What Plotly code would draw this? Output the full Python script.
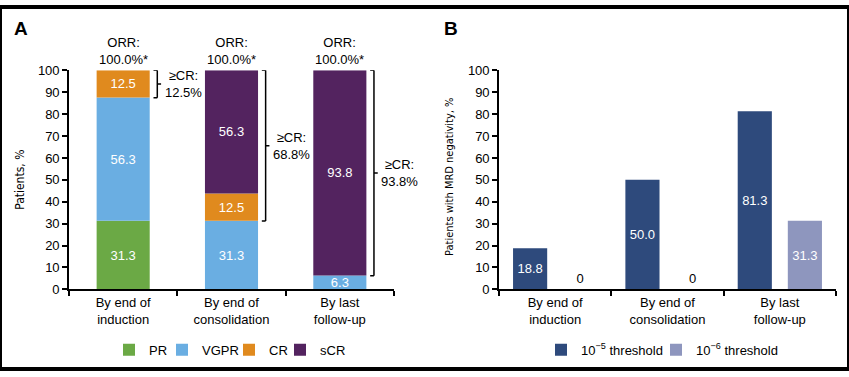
import numpy as np
import plotly.graph_objects as go

W, H = 849, 377

# ---------------- data ----------------
categories = ["By end of<br>induction", "By end of<br>consolidation", "By last<br>follow-up"]

# Panel A: response categories (stacked, %)
resp_names = ["PR", "VGPR", "CR", "sCR"]
pr_vals = [31.3, 0.0, 0.0]
vgpr_vals = [56.3, 31.3, 6.3]
cr_vals = [12.5, 12.5, 0.0]
scr_vals = [0.0, 56.3, 93.8]
orr_labels = ["100.0%*", "100.0%*", "100.0%*"]

# Panel B: MRD negativity (%)
mrd_names = ["10<sup>\u22125</sup> threshold", "10<sup>\u22126</sup> threshold"]
mrd_1e5 = [18.8, 50.0, 81.3]
mrd_1e6 = [0.0, 0.0, 31.3]

y_ticks = [0, 10, 20, 30, 40, 50, 60, 70, 80, 90, 100]

# ---------------- styling ----------------
resp_colors = ["#6BA945", "#6AAEE2", "#E08A1E", "#53235F"]
mrd_colors = ["#2E4A7C", "#8E96BE"]
resp_legend_w = [8, 22, 6, 25]
mrd_legend_w = [70, 80]
FONT = "Liberation Sans, Arial, sans-serif"
NARROW = "Liberation Sans Narrow, Arial Narrow, DejaVu Sans Condensed, sans-serif"


def px_x(p):
    return p / W


def px_y(p):
    return 1 - p / H


xa_dom = [px_x(69), px_x(394)]
xb_dom = [px_x(499), px_x(836)]
y_dom = [px_y(294), px_y(66)]

fig = go.Figure()

# ---- Panel A stacked bars ----
series_a = [pr_vals, vgpr_vals, cr_vals, scr_vals]
bases = np.cumsum([np.zeros(3)] + [np.array(s) for s in series_a[:-1]], axis=0)
bar_w_a = 0.49
for name, vals, base, col, lw in zip(resp_names, series_a, bases, resp_colors, resp_legend_w):
    keep = [i for i, v in enumerate(vals) if v > 0]
    fig.add_trace(go.Bar(
        x=[categories[i] for i in keep], y=[vals[i] for i in keep],
        base=[base[i] for i in keep], name=name,
        marker=dict(color=col, line=dict(width=0)),
        width=bar_w_a,
        text=[f"{vals[i]:.1f}" for i in keep],
        textposition="inside", insidetextanchor="middle",
        constraintext="none",
        insidetextfont=dict(color="white", size=13, family=FONT),
        xaxis="x", yaxis="y", legend="legend", legendwidth=lw,
        hoverinfo="skip",
    ))

# ---- Panel B grouped bars ----
bar_w_b = 0.304
offsets_b = [-0.375, 0.071]
for name, vals, col, off, lw in zip(mrd_names, [mrd_1e5, mrd_1e6], mrd_colors, offsets_b, mrd_legend_w):
    fig.add_trace(go.Bar(
        x=categories, y=vals, name=name,
        marker=dict(color=col, line=dict(width=0)),
        width=bar_w_b, offset=off,
        text=[f"{v:.1f}" if v > 0 else "0" for v in vals],
        textposition=["inside" if v > 0 else "outside" for v in vals],
        insidetextanchor="middle", constraintext="none", cliponaxis=False,
        insidetextfont=dict(color="white", size=13, family=FONT),
        outsidetextfont=dict(color="black", size=13, family=FONT),
        xaxis="x2", yaxis="y2", legend="legend2", legendwidth=lw,
        hoverinfo="skip",
    ))

# ---- annotations / brackets for panel A ----
annotations = []
shapes = []
cr_plus = np.array(cr_vals) + np.array(scr_vals)
totals = np.sum(series_a, axis=0)
br_dx = 0.315   # bracket offset from category centre (category units)
arm = 0.035
for i, (lab, crp, tot) in enumerate(zip(orr_labels, cr_plus, totals)):
    annotations.append(dict(
        x=i, y=min(tot, 100), xref="x", yref="y", text="ORR:<br>" + lab,
        showarrow=False, yanchor="bottom", yshift=1,
        font=dict(size=13, family=FONT, color="black"), align="center"))
    top = min(tot, 100)
    bot = top - crp
    xb = i + br_dx
    lw = 1.5
    shapes += [
        dict(type="line", xref="x", yref="y", x0=xb, x1=xb, y0=bot, y1=top, line=dict(color="black", width=lw)),
        dict(type="line", xref="x", yref="y", x0=xb - arm, x1=xb, y0=top, y1=top, line=dict(color="black", width=lw)),
        dict(type="line", xref="x", yref="y", x0=xb - arm, x1=xb, y0=bot, y1=bot, line=dict(color="black", width=lw)),
        dict(type="line", xref="x", yref="y", x0=xb, x1=xb + arm, y0=(top + bot) / 2, y1=(top + bot) / 2, line=dict(color="black", width=lw)),
    ]
    annotations.append(dict(
        x=xb + 0.05, y=(top + bot) / 2, xref="x", yref="y",
        text=f"\u2265CR:<br>{crp:.1f}%", showarrow=False,
        xanchor="left", yanchor="middle", align="center",
        font=dict(size=13, family=FONT, color="black")))

# panel letters and axis titles
annotations += [
    dict(x=px_x(12), y=px_y(22), xref="paper", yref="paper", text="<b>A</b>", showarrow=False,
         xanchor="left", yanchor="middle", font=dict(size=19, family=FONT, color="black")),
    dict(x=px_x(442), y=px_y(22), xref="paper", yref="paper", text="<b>B</b>", showarrow=False,
         xanchor="left", yanchor="middle", font=dict(size=19, family=FONT, color="black")),
    dict(x=px_x(20), y=px_y(180), xref="paper", yref="paper", text="Patients, %", showarrow=False,
         textangle=-90, xanchor="center", yanchor="middle", font=dict(size=12, family=NARROW, color="black")),
    dict(x=px_x(450), y=px_y(177), xref="paper", yref="paper", text="Patients with MRD negativity, %", showarrow=False,
         textangle=-90, xanchor="center", yanchor="middle", font=dict(size=11, family=NARROW, color="black")),
]

# figure border
shapes.append(dict(type="rect", xref="paper", yref="paper", x0=0, x1=1, y0=0, y1=1,
                   line=dict(color="black", width=4), layer="above"))

axis_common = dict(showgrid=False, zeroline=False, showline=True, linecolor="black", linewidth=1.6,
                   ticks="outside", tickcolor="black", tickwidth=1.5, ticklen=5,
                   tickfont=dict(size=13, family=FONT, color="black"), fixedrange=True)

fig.update_layout(
    width=W, height=H,
    margin=dict(l=0, r=0, t=0, b=0),
    paper_bgcolor="white", plot_bgcolor="white",
    barmode="overlay",
    font=dict(family=FONT, size=13, color="black"),
    xaxis=dict(domain=xa_dom, anchor="y", type="category", tickson="boundaries",
               range=[-0.5, 2.5], **axis_common),
    yaxis=dict(domain=y_dom, anchor="x", range=[0, 100], tickvals=y_ticks, **axis_common),
    xaxis2=dict(domain=xb_dom, anchor="y2", type="category", tickson="boundaries",
                range=[-0.5, 2.5], **axis_common),
    yaxis2=dict(domain=y_dom, anchor="x2", range=[0, 100], tickvals=y_ticks, **axis_common),
    legend=dict(orientation="h", x=px_x(109), xanchor="left", y=px_y(357), yanchor="middle",
                font=dict(size=13, family=FONT), itemclick=False, itemdoubleclick=False,
                bgcolor="rgba(0,0,0,0)", traceorder="normal"),
    legend2=dict(orientation="h", x=px_x(541), xanchor="left", y=px_y(357), yanchor="middle",
                 font=dict(size=13, family=FONT), itemclick=False, itemdoubleclick=False,
                 bgcolor="rgba(0,0,0,0)", traceorder="normal"),
    annotations=annotations,
    shapes=shapes,
    showlegend=True,
)

fig.write_html(
    "out.html", config={"displayModeBar": False},
    post_script=(
        "document.documentElement.style.margin='0';document.body.style.margin='0';"
        "document.body.style.padding='0';document.documentElement.style.overflow='hidden';"
        "var d=document.getElementById('{plot_id}');d.style.position='fixed';"
        "d.style.left='0px';d.style.top='0px';"
    ),
)
